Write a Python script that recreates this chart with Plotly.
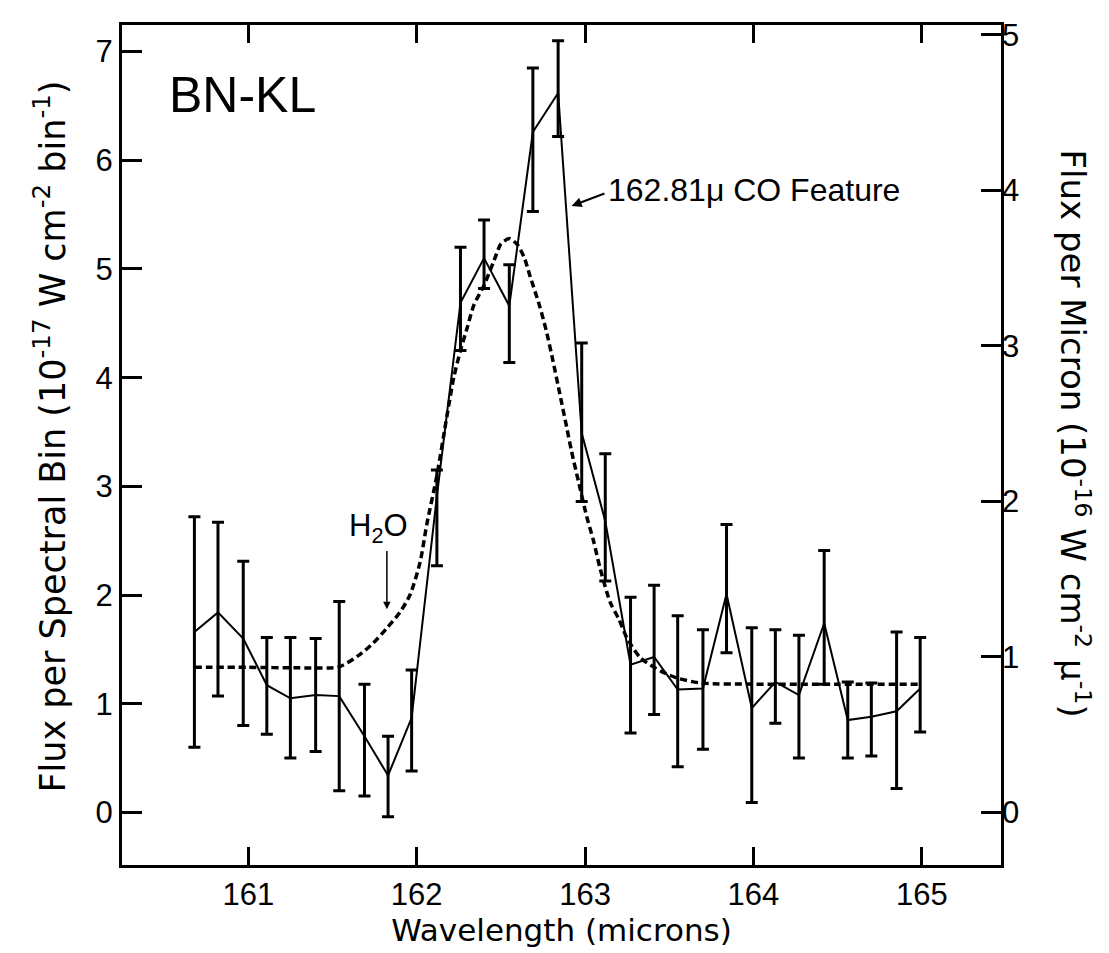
import numpy as np
import plotly.graph_objects as go

# ---- data (left axis units: 1e-17 W cm^-2 bin^-1) ----
wavelength = [160.68, 160.82, 160.97, 161.11, 161.25, 161.40, 161.54, 161.69, 161.83, 161.97,
              162.12, 162.26, 162.40, 162.55, 162.69, 162.84, 162.98, 163.12, 163.27, 163.41,
              163.55, 163.70, 163.84, 163.99, 164.13, 164.27, 164.42, 164.56, 164.70, 164.85, 164.99]
flux = [1.66, 1.84, 1.60, 1.17, 1.05, 1.08, 1.07, 0.70, 0.34, 0.87,
        2.91, 4.69, 5.10, 4.66, 6.26, 6.62, 3.49, 2.68, 1.36, 1.43,
        1.13, 1.14, 2.01, 0.96, 1.20, 1.08, 1.74, 0.85, 0.88, 0.93, 1.14]
flux_hi = [2.72, 2.67, 2.31, 1.61, 1.61, 1.60, 1.94, 1.18, 0.70, 1.31,
           3.15, 5.20, 5.45, 5.04, 6.85, 7.10, 4.32, 3.30, 1.98, 2.09,
           1.81, 1.68, 2.65, 1.70, 1.68, 1.63, 2.41, 1.20, 1.19, 1.66, 1.61]
flux_lo = [0.60, 1.07, 0.80, 0.72, 0.50, 0.56, 0.20, 0.15, -0.04, 0.38,
           2.27, 4.25, 4.82, 4.14, 5.53, 6.22, 2.86, 2.13, 0.73, 0.90,
           0.42, 0.58, 1.47, 0.09, 0.82, 0.50, 1.18, 0.50, 0.52, 0.22, 0.74]

model_wl = [160.68, 161.00, 161.30, 161.54, 161.66, 161.74, 161.82, 161.90, 161.96, 162.02,
            162.06, 162.12, 162.18, 162.22, 162.26, 162.30, 162.34, 162.40, 162.46, 162.50,
            162.55, 162.60, 162.64, 162.67, 162.73, 162.77, 162.81, 162.85, 162.89, 162.92,
            162.96, 163.01, 163.05, 163.09, 163.15, 163.20, 163.25, 163.33, 163.45, 163.55,
            163.69, 164.00, 164.50, 164.99]
model_flux = [1.335, 1.335, 1.33, 1.34, 1.45, 1.555, 1.69, 1.84, 2.0, 2.3,
              2.65, 3.1, 3.65, 4.0, 4.25, 4.46, 4.67, 4.85, 5.08, 5.23,
              5.28, 5.22, 5.10, 4.95, 4.66, 4.43, 4.15, 3.85, 3.55, 3.32,
              3.05, 2.72, 2.50, 2.24, 1.93, 1.78, 1.60, 1.42, 1.30, 1.235,
              1.19, 1.18, 1.18, 1.18]

x_ticks = [161, 162, 163, 164, 165]
left_ticks = [0, 1, 2, 3, 4, 5, 6, 7]
right_ticks = [0, 1, 2, 3, 4, 5]
bin_to_micron = 0.699   # right-axis value per left-axis unit

FONT = "Liberation Sans"
TFONT = "DejaVu Sans"
y_range = [-0.484, 7.245]

f = np.array(flux)
err_plus = np.array(flux_hi) - f
err_minus = f - np.array(flux_lo)

fig = go.Figure()
fig.add_trace(go.Scatter(
    x=model_wl, y=model_flux, mode="lines",
    line=dict(color="black", width=3.5, dash="7px,4px", shape="spline", smoothing=0.7),
    hoverinfo="skip", showlegend=False))
fig.add_trace(go.Scatter(
    x=wavelength, y=flux, mode="lines",
    line=dict(color="black", width=2),
    error_y=dict(type="data", symmetric=False, array=err_plus, arrayminus=err_minus,
                 color="black", thickness=3, width=6),
    showlegend=False))
# invisible trace to activate right axis
fig.add_trace(go.Scatter(
    x=[wavelength[0]], y=[flux[0] * bin_to_micron], yaxis="y2", mode="markers",
    marker=dict(opacity=0), hoverinfo="skip", showlegend=False))

fig.update_layout(
    width=1109, height=953,
    margin=dict(l=114, r=116, t=10, b=96),
    paper_bgcolor="white", plot_bgcolor="white",
    font=dict(family=FONT, color="black"),
    xaxis=dict(range=[160.25, 165.47], tickvals=x_ticks, ticks="inside", ticklen=18,
               tickwidth=3, tickcolor="black", showline=True, linewidth=3, linecolor="black",
               mirror="ticks", showgrid=False, zeroline=False,
               tickfont=dict(size=31, family=FONT),
               title=dict(text="Wavelength (microns)", font=dict(size=31, family=TFONT), standoff=4)),
    yaxis=dict(range=y_range, tickvals=left_ticks, ticks="inside", ticklen=20,
               tickwidth=3, tickcolor="black", showline=True, linewidth=3, linecolor="black",
               mirror=True, showgrid=False, zeroline=False,
               tickfont=dict(size=31, family=FONT)),
    yaxis2=dict(range=[y_range[0] * bin_to_micron, y_range[1] * bin_to_micron],
                tickvals=right_ticks, overlaying="y", side="right", ticks="inside", ticklen=20,
                tickwidth=3, tickcolor="black", showline=False, showgrid=False, zeroline=False,
                tickfont=dict(size=31, family=FONT)),
)

annotations = [
    dict(text="Flux per Spectral Bin (10<sup>-17</sup> W cm<sup>-2</sup> bin<sup>-1</sup>)",
         xref="paper", yref="paper", x=-0.082, y=0.51, xanchor="center", yanchor="middle",
         textangle=-90, showarrow=False, font=dict(size=35, family=TFONT)),
    dict(text="Flux per Micron (10<sup>-16</sup> W cm<sup>-2</sup> \u03bc<sup>-1</sup>)",
         xref="paper", yref="paper", x=1.084, y=0.514, xanchor="center", yanchor="middle",
         textangle=90, showarrow=False, font=dict(size=34, family=TFONT)),
    dict(text="BN-KL", xref="paper", yref="paper", x=0.051, y=0.917, xanchor="left",
         yanchor="middle", showarrow=False, font=dict(size=50, family=FONT)),
    dict(text="162.81\u03bc CO Feature", xref="paper", yref="paper", x=0.5506, y=0.803,
         xanchor="left", yanchor="middle", showarrow=False, font=dict(size=32, family=FONT)),
    dict(text="", x=162.92, y=5.58, xref="x", yref="y", ax=163.124, ay=5.70,
         axref="x", ayref="y", showarrow=True, arrowhead=2, arrowsize=1, arrowwidth=2,
         arrowcolor="black"),
    dict(text="H<sub>2</sub>O", x=161.776, y=2.62, xref="x", yref="y", showarrow=False,
         font=dict(size=31, family=FONT)),
    dict(text="", x=161.823, y=1.87, xref="x", yref="y", ax=161.823, ay=2.42,
         axref="x", ayref="y", showarrow=True, arrowhead=2, arrowsize=1, arrowwidth=1.5,
         arrowcolor="black"),
]
fig.update_layout(annotations=annotations)

fig.write_html("out.html")
